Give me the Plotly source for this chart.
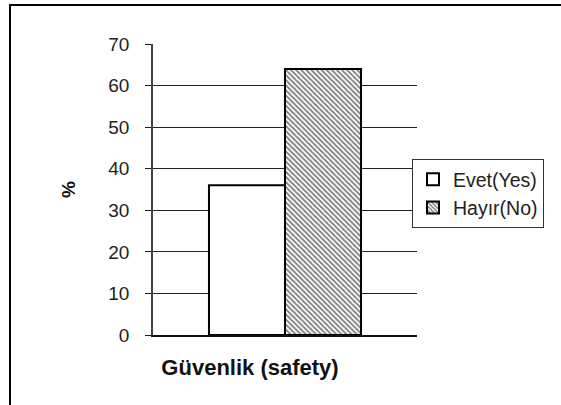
import plotly.graph_objects as go

categories = ["Güvenlik (safety)"]
series_names = ["Evet(Yes)", "Hayır(No)"]
evet_values = [36]
hayir_values = [64]
y_ticks = [0, 10, 20, 30, 40, 50, 60, 70]

W, H = 561, 405
L, T = 153, 44
pw, ph = 264, 291
R, B = W - L - pw, H - T - ph

def px_x(px):
    return (px - L) / pw

def px_y(py):
    return (T + ph - py) / ph

font_family = "Arial, Liberation Sans, sans-serif"

fig = go.Figure()
fig.add_trace(go.Bar(
    name=series_names[0], x=categories, y=evet_values,
    marker=dict(color="white", line=dict(color="black", width=2)),
))
fig.add_trace(go.Bar(
    name=series_names[1], x=categories, y=hayir_values,
    marker=dict(color="white", line=dict(color="black", width=2),
                pattern=dict(shape="\\", fgcolor="black", bgcolor="white",
                             size=3.6, solidity=0.5)),
))

fig.update_layout(
    width=W, height=H,
    margin=dict(l=L, r=R, t=T, b=B, autoexpand=False),
    paper_bgcolor="white", plot_bgcolor="white",
    barmode="group", bargap=0.424, bargroupgap=0,
    font=dict(family=font_family, color="#222"),
    showlegend=True,
    legend=dict(
        x=px_x(412), y=px_y(159), xanchor="left", yanchor="top",
        bordercolor="#333", borderwidth=1, bgcolor="white",
        font=dict(size=19.5, color="#222", family=font_family),
        tracegroupgap=0,
    ),
    xaxis=dict(
        showgrid=False, showline=True, linecolor="#111", linewidth=1.5,
        ticks="", tickfont=dict(size=22, family=font_family, color="#111", weight="bold"),
        ticklabelshift=-35, ticklabelstandoff=12,
        fixedrange=True,
    ),
    yaxis=dict(
        range=[0, 70], tickvals=y_ticks, ticktext=[str(v) for v in y_ticks],
        showgrid=True, gridcolor="#222", gridwidth=1,
        showline=True, linecolor="#444", linewidth=1.5,
        ticks="outside", ticklen=6, tickcolor="#222", tickwidth=1,
        tickfont=dict(size=19, family=font_family, color="#222"),
        ticklabelstandoff=12,
        title=dict(text="%", font=dict(size=19, family=font_family, color="#111", weight="bold"), standoff=28),
        zeroline=False, fixedrange=True,
    ),
    shapes=[dict(
        type="rect", xref="paper", yref="paper",
        x0=px_x(10), x1=px_x(700), y0=px_y(600), y1=px_y(5),
        line=dict(color="black", width=2), fillcolor="rgba(0,0,0,0)", layer="above",
    )],
)

fig.write_html(
    "out.html",
    config={"displayModeBar": False},
    post_script="document.body.style.margin='0';document.body.style.padding='0';document.body.style.overflow='hidden';",
)
